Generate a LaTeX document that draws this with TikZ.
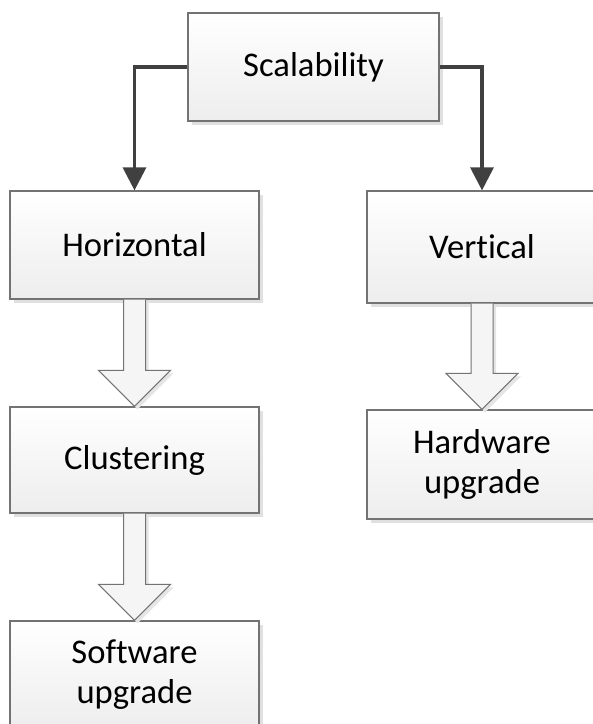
\documentclass[tikz,border=0pt]{standalone}
\usepackage{fontspec}
\setmainfont[Ligatures={NoCommon,NoRare,NoContextual}, Contextuals=NoAlternate]{Carlito}
\usetikzlibrary{arrows.meta,calc,shadows}

% block arrow between two boxes
\newcommand{\blockarrow}[2]{%
  \draw[fatarrow] let \p1=(#1.south), \p2=(#2.north) in
    (\x1-5.5pt,\y1) -- (\x1-5.5pt,\y2+18pt) -- (\x1-18pt,\y2+18pt) -- (\x2,\y2)
    -- (\x1+18pt,\y2+18pt) -- (\x1+5.5pt,\y2+18pt) -- (\x1+5.5pt,\y1);}

\begin{document}
\begin{tikzpicture}[x=0.5pt, y=-0.5pt,
    box/.style={draw=black!55, line width=0.6pt, top color=white, bottom color=black!7,
      drop shadow={shadow xshift=1.8pt, shadow yshift=-1.8pt, fill=black!12, opacity=1},
      align=center, inner sep=0pt, font=\fontsize{17.3}{20}\selectfont},
    conn/.style={draw=black!75, line width=1.6pt, -{Triangle[width=11.5pt,length=11.5pt]}},
    fatarrow/.style={draw=black!55, line width=0.5pt, fill=black!4,
      drop shadow={shadow xshift=1.5pt, shadow yshift=-1.5pt, fill=black!10, opacity=1}}]
  \useasboundingbox (0,0) rectangle (593,724);
  % boxes
  \node[box, minimum width=125.5pt, minimum height=54pt] (scal) at (313.5,67) {Scalability};
  \node[box, minimum width=124.5pt, minimum height=54pt] (horiz) at (134.5,245) {Horizontal};
  \node[box, minimum width=115pt, minimum height=56pt] (vert) at (482,247) {Vertical};
  \node[box, minimum width=124.5pt, minimum height=53pt] (clus) at (134.5,460) {Clustering};
  \node[box, minimum width=124.5pt, minimum height=54pt] (soft) at (134.5,675) {Software\\upgrade};
  \node[box, minimum width=115pt, minimum height=54.5pt] (hard) at (482,464.5) {Hardware\\upgrade};
  % connectors
  \draw[conn] (scal.west) -| (horiz.north);
  \draw[conn] (scal.east) -| (vert.north);
  \blockarrow{horiz}{clus}
  \blockarrow{clus}{soft}
  \blockarrow{vert}{hard}
\end{tikzpicture}
\end{document}
